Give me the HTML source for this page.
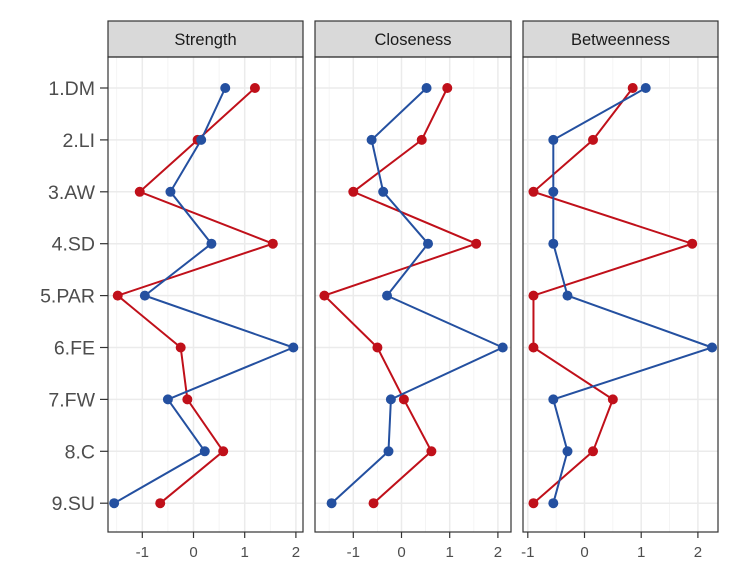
<!DOCTYPE html>
<html><head><meta charset="utf-8"><style>
body{margin:0;background:#fff;font-family:"Liberation Sans",sans-serif}
</style></head><body>
<svg id="chart" width="747" height="581" xmlns="http://www.w3.org/2000/svg"></svg>
<script>
const categories=["1.DM","2.LI","3.AW","4.SD","5.PAR","6.FE","7.FW","8.C","9.SU"];
const panelTitles=["Strength","Closeness","Betweenness"];
const strengthBlue=[0.62,0.15,-0.45,0.35,-0.95,1.95,-0.5,0.22,-1.55];
const strengthRed=[1.2,0.08,-1.05,1.55,-1.48,-0.25,-0.12,0.58,-0.65];
const closenessBlue=[0.52,-0.62,-0.38,0.55,-0.3,2.1,-0.22,-0.27,-1.45];
const closenessRed=[0.95,0.42,-1.0,1.55,-1.6,-0.5,0.05,0.62,-0.58];
const betweenBlue=[1.08,-0.55,-0.55,-0.55,-0.3,2.25,-0.55,-0.3,-0.55];
const betweenRed=[0.85,0.15,-0.9,1.9,-0.9,-0.9,0.5,0.15,-0.9];
const tickLabels=["-1","0","1","2"];
const tickValues=[-1,0,1,2];

const NS="http://www.w3.org/2000/svg";
const svg=document.getElementById("chart");
function mk(tag,attrs,parent){const e=document.createElementNS(NS,tag);for(const k in attrs)e.setAttribute(k,attrs[k]);(parent||svg).appendChild(e);return e;}
const panels=[
 {x0:108,x1:303,zero:193.5,unit:51.2,blue:strengthBlue,red:strengthRed},
 {x0:315,x1:511,zero:401.5,unit:48.2,blue:closenessBlue,red:closenessRed},
 {x0:523,x1:718,zero:584.5,unit:56.7,blue:betweenBlue,red:betweenRed}];
const yTop=57,yBot=532,stripTop=21;
const yScale=i=>88+i*51.9;
categories.forEach((c,i)=>{
 const t=mk("text",{x:95,y:yScale(i)+7,"text-anchor":"end","font-size":19.5,fill:"#4d4d4d"});
 t.textContent=c;
 
 
 mk("line",{x1:100,x2:108,y1:yScale(i),y2:yScale(i),stroke:"#333","stroke-width":1.2});
});
panels.forEach((p,pi)=>{
 const g=mk("g",{});
 
 
 const xs=v=>p.zero+v*p.unit;
 for(let v=-2.5;v<=2.5;v+=1){const x=xs(v);if(x>p.x0&&x<p.x1)mk("line",{x1:x,x2:x,y1:yTop,y2:yBot,stroke:"#f2f2f2","stroke-width":0.8},g);}
 tickValues.forEach((v,k)=>{const x=xs(v);
  mk("line",{x1:x,x2:x,y1:yTop,y2:yBot,stroke:"#ebebeb","stroke-width":1.5},g);
  mk("line",{x1:x,x2:x,y1:yBot,y2:yBot+6,stroke:"#333","stroke-width":1.2},g);
  const t=mk("text",{x:x,y:yBot+25,"text-anchor":"middle","font-size":15,fill:"#4d4d4d"},g);
  t.textContent=tickLabels[k];
  
  
 });
 categories.forEach((c,i)=>mk("line",{x1:p.x0,x2:p.x1,y1:yScale(i),y2:yScale(i),stroke:"#ebebeb","stroke-width":1.5},g));
 const s=mk("rect",{x:p.x0,y:stripTop,width:p.x1-p.x0,height:yTop-stripTop,fill:"#d9d9d9",stroke:"#333","stroke-width":1.2},g);
 
 
 const st=mk("text",{x:(p.x0+p.x1)/2,y:stripTop+24,"text-anchor":"middle","font-size":16.5,fill:"#1a1a1a"},g);
 st.textContent=panelTitles[pi];
 
 
 [[p.red,"#c0101a","red"],[p.blue,"#2450a0","blue"]].forEach(([arr,col,nm])=>{
  const pts=arr.map((v,i)=>xs(v)+","+yScale(i)).join(" ");
  const pl=mk("polyline",{points:pts,fill:"none",stroke:col,"stroke-width":2},g);
  
  
  arr.forEach((v,i)=>{const c=mk("circle",{cx:xs(v),cy:yScale(i),r:5,fill:col},g);
   
   });
 });
 mk("rect",{x:p.x0,y:yTop,width:p.x1-p.x0,height:yBot-yTop,fill:"none",stroke:"#333","stroke-width":1.2},g);
});
</script>
</body></html>
